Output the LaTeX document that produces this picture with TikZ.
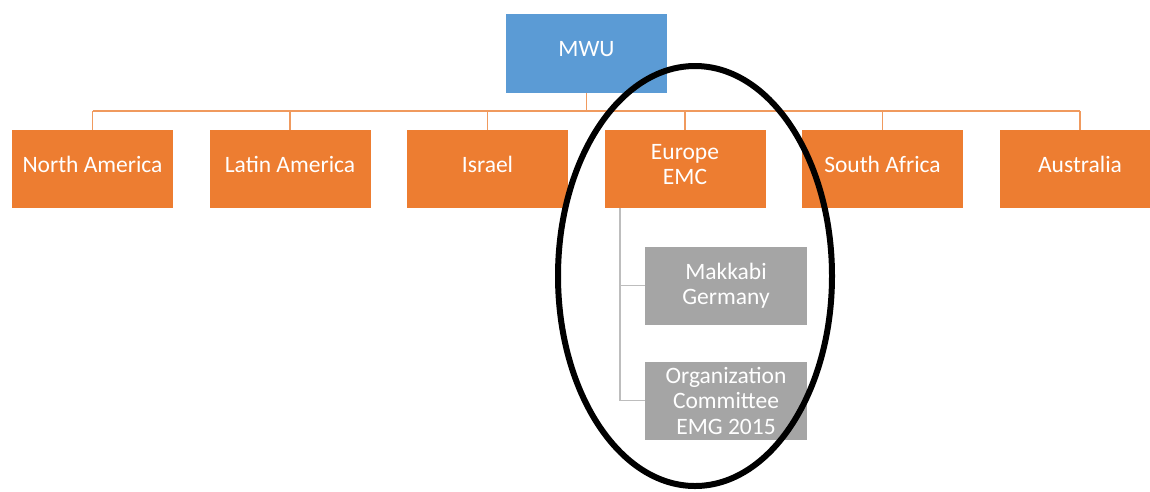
\documentclass[tikz,border=0pt]{standalone}
\usepackage{fontspec}
\setmainfont{Carlito}
\definecolor{mblue}{HTML}{5B9BD5}
\definecolor{morange}{HTML}{ED7D31}
\definecolor{mgrey}{HTML}{A5A5A5}
\definecolor{lorange}{HTML}{F09A5E}
\definecolor{lgrey}{HTML}{BDBDBD}
\begin{document}
\begin{tikzpicture}[x=1pt,y=-1pt,
  lbl/.style={inner sep=0pt,text=white,align=center,
    font=\fontsize{23.5}{25.5}\selectfont},
  box/.style={rectangle,minimum width=161pt,minimum height=78pt,inner sep=0pt,
    label={[lbl,yshift=4.5pt]center:#1}},
  bluebox/.style={box=#1,fill=mblue,minimum height=79pt},
  orangebox/.style={box=#1,fill=morange},
  greybox/.style={rectangle,minimum width=162pt,minimum height=78pt,inner sep=0pt,
    fill=mgrey,label={[lbl]center:#1}},
  oline/.style={draw=lorange,line width=1.6pt},
  gline/.style={draw=lgrey,line width=1.6pt},
  ring/.style={draw=black,line width=6pt}]
\useasboundingbox (0,0) rectangle (1150,491);
\clip (0,0) rectangle (1150,491);
\node[bluebox={MWU}] (mwu) at (586.5,53.5) {};
\node[orangebox={North America}] (na) at (92.5,169) {};
\node[orangebox={Latin America}] (la) at (290,169) {};
\node[orangebox={Israel}] (il) at (487.5,169) {};
\node[orangebox={Europe\\EMC}] (eu) at (685,169) {};
\node[orangebox={South Africa}] (sa) at (882.5,169) {};
\node[orangebox={Australia}] (au) at (1080,169) {};
\node[greybox={Makkabi\\Germany}] (mk) at (726,285.5) {};
\node[greybox={Organization\\Committee\\EMG 2015}] (oc) at (726,400.5) {};
% connectors
\coordinate (bus) at (586.5,111);
\draw[oline] (mwu.south) -- (bus);
\draw[oline] (na.north |- bus) -- (au.north |- bus);
\foreach \n in {na,la,il,eu,sa,au}{
  \draw[oline] (\n.north) -- (\n.north |- bus);
}
\coordinate (stem) at ([xshift=15.5pt]eu.south west);
\draw[gline] (stem) |- (oc.west);
\draw[gline] (stem |- mk.west) -- (mk.west);
% annotation ellipse
\draw[ring] (695,276) ellipse [x radius=137, y radius=210];
\end{tikzpicture}
\end{document}
